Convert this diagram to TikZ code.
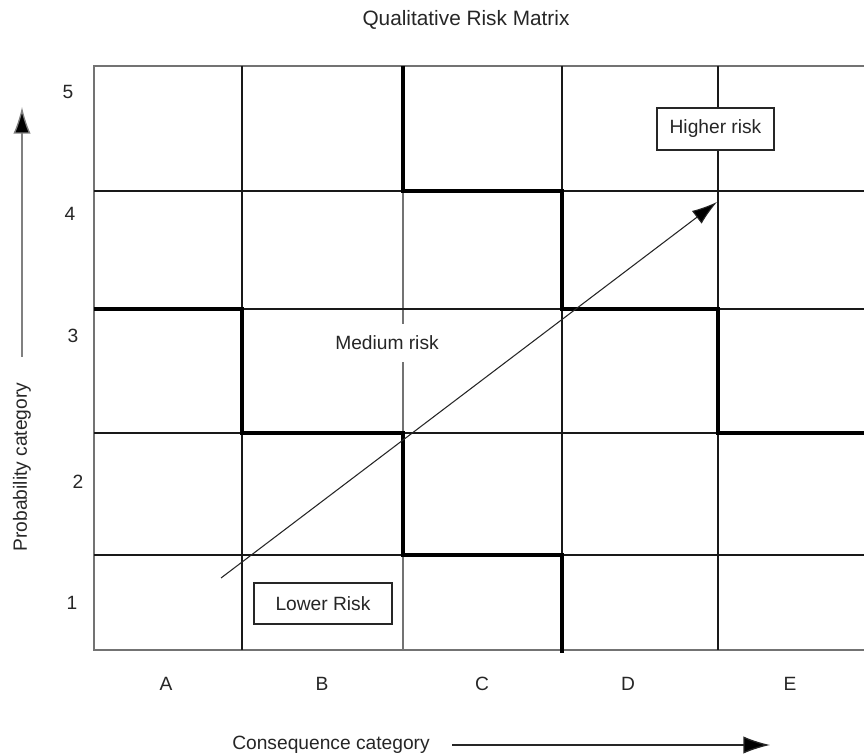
\documentclass[tikz,border=0pt]{standalone}
\usepackage{fontspec}
\setmainfont{Liberation Sans}
\usetikzlibrary{arrows.meta}
\begin{document}
\begin{tikzpicture}[x=0.75pt,y=-0.75pt,
  thinline/.style={line width=0.9pt, draw=black!90},
  grayline/.style={line width=0.8pt, draw=black!55},
  thickline/.style={line width=3pt, draw=black, line join=miter},
  lbl/.style={font=\fontsize{14.4}{16}\selectfont, text=black!85, inner sep=0pt},
  riskbox/.style={lbl, draw=black!85, line width=1pt, fill=white}]
\useasboundingbox (0,0) rectangle (864,755);

% title
\node[lbl, font=\fontsize{15.6}{18}\selectfont] (title) at (466,20) {Qualitative Risk Matrix};

% grid border
\draw[grayline] (866,66) -- (94,66) -- (94,650) -- (866,650);
% vertical interior lines
\draw[thinline] (242,66) -- (242,650);
\draw[grayline] (403,191) -- (403,650);
\draw[thinline] (562,66) -- (562,650);
\draw[thinline] (718,66) -- (718,650);
% horizontal interior lines
\foreach \yy in {191,309,433,555} \draw[thinline] (94,\yy) -- (866,\yy);

% risk boundaries
\draw[thickline] (94,309) -- (242,309) -- (242,433) -- (403,433) -- (403,555) -- (562,555) -- (562,653);
\draw[thickline] (403,66) -- (403,191) -- (562,191) -- (562,309) -- (718,309) -- (718,433) -- (866,433);

% labels inside
\node[lbl, fill=white, inner xsep=1pt, inner ysep=9pt] (medium) at (387,343) {Medium risk};
\node[riskbox, minimum width=87.75pt, minimum height=31.5pt] (higher) at (715.5,129) {Higher risk};
\node[riskbox, minimum width=103.5pt, minimum height=30.75pt] (lower) at (323,603.5) {Lower Risk};

% diagonal arrow
\coordinate (dstart) at (221,578);
\coordinate (dend) at (717,202);
\draw[line width=0.8pt, draw=black!85, -{Latex[length=19pt,width=12pt,fill=black]}] (dstart) -- (dend);

% probability numbers
\node[lbl] (p5) at (68,92) {5};
\node[lbl] (p4) at (70,214) {4};
\node[lbl] (p3) at (73,336) {3};
\node[lbl] (p2) at (78,482) {2};
\node[lbl] (p1) at (72,603) {1};

% consequence letters
\node[lbl] (ca) at (166,684) {A};
\node[lbl] (cb) at (322,684) {B};
\node[lbl] (cc) at (482,684) {C};
\node[lbl] (cd) at (628,684) {D};
\node[lbl] (ce) at (790,684) {E};

% axis labels
\node[lbl, rotate=90] (plabel) at (22,467) {Probability category};
\coordinate (pa1) at (22,357);
\coordinate (pa2) at (22,107);
\draw[line width=1pt, draw=black!50, -{Latex[length=20pt,width=13pt,fill=black]}] (pa1) -- (pa2);

\node[lbl] (clabel) at (331,745) {Consequence category};
\coordinate (ca1) at (452,745);
\coordinate (ca2) at (770,745);
\draw[line width=1pt, draw=black!85, -{Latex[length=20pt,width=13pt,fill=black]}] (ca1) -- (ca2);
\end{tikzpicture}
\end{document}
